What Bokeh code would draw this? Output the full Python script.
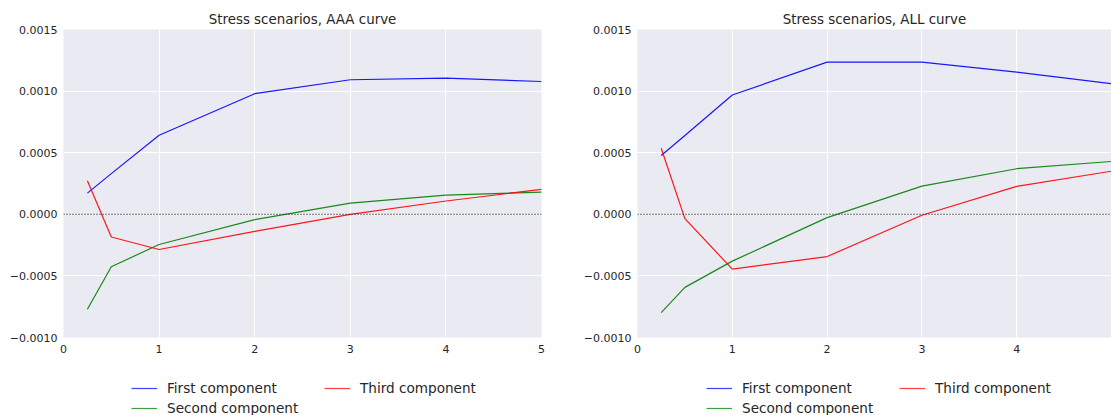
from bokeh.plotting import figure
from bokeh.layouts import row, column
from bokeh.models import Span, Legend, LegendItem, FixedTicker, CustomJSTickFormatter, Range1d
from bokeh.embed import file_html
from bokeh.resources import INLINE

# ---- data ----
maturities = [0.25, 0.5, 1, 2, 3, 4, 5]

aaa_first = [0.000172, 0.000330, 0.000642, 0.000979, 0.001092, 0.001106, 0.001078]
aaa_second = [-0.000771, -0.000426, -0.000245, -0.000043, 0.000091, 0.000156, 0.000180]
aaa_third = [0.000273, -0.000184, -0.000286, -0.000138, 0.000000, 0.000108, 0.000202]

all_first = [0.000477, 0.000640, 0.000968, 0.001235, 0.001235, 0.001154, 0.001060]
all_second = [-0.000798, -0.000593, -0.000380, -0.000027, 0.000229, 0.000370, 0.000429]
all_third = [0.000536, -0.000035, -0.000445, -0.000343, -0.000008, 0.000227, 0.000350]

titles = ["Stress scenarios, AAA curve", "Stress scenarios, ALL curve"]
series_names = ["First component", "Second component", "Third component"]
series_colors = ["#0000ff", "#008000", "#ff0000"]
y_ticks = [-0.001, -0.0005, 0.0, 0.0005, 0.001, 0.0015]

FONT = "DejaVu Sans"
TXT = "#262626"
TOP_H = 360
LEG_H = 55


def make_fig(title, data, width, border_left, border_right, x_ticks):
    p = figure(width=width, height=TOP_H, output_backend="svg", toolbar_location=None,
               x_range=Range1d(0, 5), y_range=Range1d(-0.001, 0.0015),
               min_border_left=border_left, min_border_right=border_right,
               min_border_top=29, min_border_bottom=TOP_H - 337)
    p.title.text = title
    p.title.align = "center"
    p.title.text_font = FONT
    p.title.text_font_size = "13.4px"
    p.title.text_font_style = "normal"
    p.title.text_color = TXT
    p.title.offset = 0
    p.title.standoff = 5
    p.background_fill_color = "#EAEAF2"
    p.border_fill_color = "white"
    p.outline_line_color = None

    for ax in (p.xaxis[0], p.yaxis[0]):
        ax.axis_line_color = None
        ax.major_tick_line_color = None
        ax.minor_tick_line_color = None
        ax.major_label_text_font = FONT
        ax.major_label_text_font_size = "11px"
        ax.major_label_text_color = TXT
    p.xaxis[0].ticker = FixedTicker(ticks=x_ticks)
    p.xaxis[0].major_label_standoff = 1
    p.yaxis[0].ticker = FixedTicker(ticks=y_ticks)
    p.yaxis[0].major_label_standoff = 0
    p.yaxis[0].formatter = CustomJSTickFormatter(
        code="return (tick < -1e-12 ? '\u2212' : '') + Math.abs(tick).toFixed(4);")

    p.xgrid.grid_line_color = "white"
    p.ygrid.grid_line_color = "white"

    zero = Span(location=0, dimension="width", line_color="#222222",
                line_dash="1 2", line_width=1.2)
    p.add_layout(zero)

    for ys, c in zip(data, series_colors):
        p.line(maturities, ys, line_color=c, line_width=1.2, line_alpha=0.9)
    return p


def make_legend_fig(width, x0):
    lf = figure(width=width, height=LEG_H, output_backend="svg", toolbar_location=None,
                x_range=Range1d(0, 1), y_range=Range1d(0, 1),
                x_axis_type=None, y_axis_type=None,
                min_border_left=0, min_border_right=0, min_border_top=0, min_border_bottom=0)
    lf.outline_line_color = None
    lf.xgrid.visible = False
    lf.ygrid.visible = False
    # off-screen proxy lines, only used to give the legend its swatches
    rs = [lf.line([-10, -9], [-10, -9], line_color=c, line_width=1.2, line_alpha=0.75)
          for c in series_colors]
    items = [LegendItem(label=name, renderers=[r]) for name, r in zip(series_names, rs)]
    legend = Legend(items=items, ncols=2, location=(x0, -1),
                    background_fill_alpha=0, border_line_color=None,
                    label_text_font=FONT, label_text_font_size="13.6px",
                    label_text_color=TXT, glyph_width=26, glyph_height=16,
                    label_standoff=10, spacing=4, padding=0, margin=0,
                    label_height=16, label_width=153)
    lf.add_layout(legend, "center")
    return lf


p1 = make_fig(titles[0], [aaa_first, aaa_second, aaa_third], 574, 63, 33, [0, 1, 2, 3, 4, 5])
p2 = make_fig(titles[1], [all_first, all_second, all_third], 537, 63, 0, [0, 1, 2, 3, 4])
l1 = make_legend_fig(574, 131)
l2 = make_legend_fig(537, 132)

layout = column(row(p1, p2, spacing=0), row(l1, l2, spacing=0), spacing=0)
open("out.html", "w").write(file_html(layout, INLINE))
